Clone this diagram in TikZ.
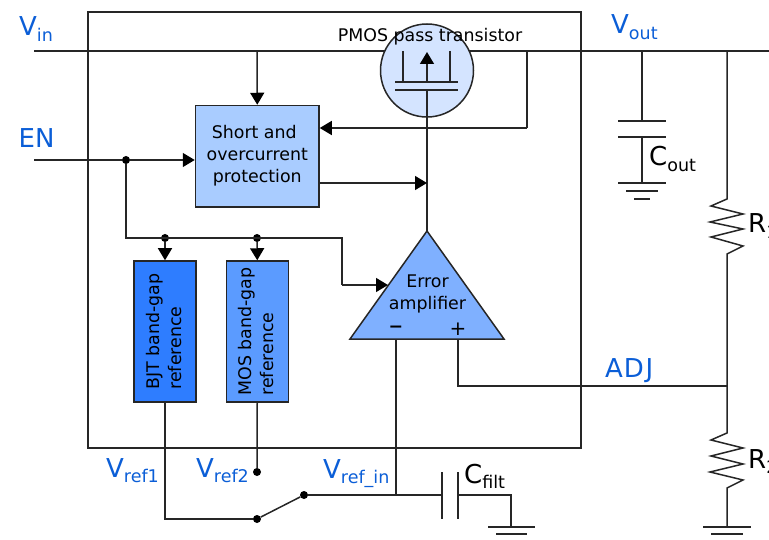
\documentclass[tikz,border=0pt]{standalone}
\usepackage{fontspec}
\setmainfont{DejaVu Sans}
\usetikzlibrary{arrows.meta}
\definecolor{wire}{HTML}{262626}
\definecolor{labblue}{HTML}{0B5ED7}
\definecolor{boxA}{HTML}{A9CCFF}
\definecolor{boxB}{HTML}{2E7DFF}
\definecolor{boxC}{HTML}{5B9BFF}
\definecolor{triC}{HTML}{7FB0FF}
\definecolor{circC}{HTML}{D4E4FF}
\newcommand{\bigsub}[2]{{\fontsize{26}{26}\selectfont #1}\raisebox{-5.5pt}{\fontsize{17.5}{18}\selectfont #2}}
\tikzset{
  wireline/.style={draw=wire,line width=1.5pt},
  arr/.style={wireline,-{Triangle[length=12pt,width=14pt,color=black,fill=black]}},
  block/.style={draw=wire,line width=1.5pt,inner sep=0pt,text=black,font=\fontsize{17.4}{22}\selectfont},
  dotj/.style={circle,fill=black,inner sep=0pt,minimum size=8pt},
  lab/.style={anchor=base west,inner sep=0pt,text=labblue},
  blab/.style={anchor=base west,inner sep=0pt,text=black},
  txt/.style={inner sep=0pt,align=center,text=black,font=\fontsize{17.4}{22}\selectfont}
}
\begin{document}
\begin{tikzpicture}[x=1pt,y=-1pt]
\useasboundingbox (0,0) rectangle (769,540);
\clip (0,0) rectangle (769,540);
% frame
\coordinate (f1) at (88,12);
\coordinate (f2) at (581,448);
\draw[wireline] (f1) rectangle (f2);
% coordinates
\coordinate (vinL) at (34,51);
\coordinate (srcT) at (403,51);
\coordinate (drnT) at (450,51);
\coordinate (srcB) at (403,82);
\coordinate (drnB) at (450,82);
\coordinate (vEnd) at (769,51);
\coordinate (tapL) at (257,51);
\coordinate (tapR) at (527,51);
\coordinate (tapRb) at (527,128);
\coordinate (capT) at (642,51);
\coordinate (rT) at (727,51);
\coordinate (enL) at (34,160);
\coordinate (gateB) at (427,90);
\coordinate (chan) at (427,82);
\coordinate (chanUp) at (427,52);
\coordinate (apex) at (427,231);
\coordinate (tl) at (350,339);
\coordinate (tr) at (504,339);
\coordinate (minus) at (396,339);
\coordinate (plus) at (458,339);
\coordinate (adjJ) at (727,386);
% blocks
\node[block,align=center,fill=boxA,minimum width=123.5pt,minimum height=101.5pt] (prot) at (257.25,156.25) {Short and\hspace*{6pt}\\overcurrent\hspace*{6pt}\\protection\hspace*{6pt}\\[-18pt]\mbox{}};
\node[block,align=left,fill=boxB,rotate=90,minimum width=141pt,minimum height=62pt] (bjt) at (165,331.5) {BJT band-gap\\reference\\[-19pt]\mbox{}};
\node[block,align=left,fill=boxC,rotate=90,minimum width=141pt,minimum height=62pt] (mos) at (257.25,331.5) {MOS band-gap\\reference\\[-19pt]\mbox{}};
% wires behind circle
\draw[wireline] (vinL) -- (srcT);
\draw[wireline] (drnT) -- (vEnd);
% transistor
\node[circle,draw=wire,line width=1.5pt,fill=circC,minimum size=93pt,inner sep=0pt] (pmos) at (427,70.5) {};
\draw[wireline] (srcT) -- (srcB);
\draw[wireline] (drnT) -- (drnB);
\coordinate (b1) at (395,82); \coordinate (b2) at (458,82);
\coordinate (g1) at (395,90); \coordinate (g2) at (458,90);
\draw[wireline] (b1) -- (b2);
\draw[wireline] (g1) -- (g2);
\draw[arr] (chan) -- (chanUp);
\draw[wireline] (gateB) -- (apex);
\node[txt] (pmostxt) at (430,37) {PMOS pass transistor};
% triangle
\draw[line width=1.5pt,draw=wire,fill=triC,line join=miter] (apex) -- (tr) -- (tl) -- cycle;
\node[txt] (err) at (427.5,294) {Error\\amplifier};
\node[txt] (mtxt) at (396,329) {\textbf{−}};
\node[txt] (ptxt) at (458,329) {\fontsize{20}{20}\selectfont +};
% control wires
\draw[arr] (tapL) -- (prot.north);
\draw[wireline] (tapR) -- (tapRb);
\draw[arr] (tapRb) -- (prot.east |- tapRb);
\coordinate (pOut) at (prot.east |- 0,183);
\coordinate (gate183) at (427,183);
\draw[arr] (pOut) -- (gate183);
\node[dotj] (enJ) at (126,160) {};
\draw[wireline] (enL) -- (enJ);
\draw[arr] (enJ) -- (prot.west |- enJ);
\coordinate (c1) at (126,238);
\node[dotj] (jb) at (165,238) {};
\node[dotj] (jm) at (257,238) {};
\coordinate (c2) at (342,238);
\coordinate (c3) at (342,285);
\coordinate (c4) at (388,285);
\draw[wireline] (enJ) -- (c1) -- (c2) -- (c3);
\draw[arr] (c3) -- (c4);
\draw[arr] (jb) -- (bjt.east);
\draw[arr] (jm) -- (mos.east);
% output cap
\coordinate (cp1) at (642,121);
\coordinate (cp2) at (642,137);
\coordinate (cg) at (642,183);
\draw[wireline] (capT) -- (cp1);
\draw[wireline] (618,121) -- (666,121);
\draw[wireline] (618,137) -- (666,137);
\draw[wireline] (cp2) -- (cg);
\draw[wireline] (618,183) -- (666,183);
\draw[wireline] (626,191) -- (658,191);
\draw[wireline] (634,199) -- (650,199);
% resistors
\coordinate (r1t) at (727,199);
\coordinate (r1b) at (727,254);
\coordinate (r2t) at (727,433);
\coordinate (r2b) at (727,488);
\coordinate (rg) at (727,527);
\draw[wireline] (rT) -- (r1t) -- (711,206) -- (743,214) -- (710,222) -- (743,229) -- (711,237) -- (743,246) -- (r1b) -- (adjJ) -- (r2t) -- (711,440) -- (743,448) -- (711,456) -- (743,464) -- (710,472) -- (743,480) -- (r2b) -- (rg);
\draw[wireline] (703,527) -- (751,527);
\draw[wireline] (711,534) -- (743,534);
% plus input
\coordinate (pk) at (458,386);
\draw[wireline] (plus) -- (pk) -- (adjJ);
% switch
\node[dotj] (sw1) at (257,519) {};
\node[dotj] (sw2) at (257,472) {};
\node[dotj] (swC) at (304,495) {};
\coordinate (bk) at (165,519);
\coordinate (jv) at (396,495);
\draw[wireline] (bjt.west) -- (bk) -- (sw1);
\draw[wireline] (mos.west) -- (sw2);
\draw[wireline] (sw1) -- (swC);
\draw[wireline] (minus) -- (jv);
% filter cap
\coordinate (fp1) at (442,495);
\coordinate (fp2) at (458,495);
\coordinate (fk) at (511,495);
\coordinate (fg) at (511,527);
\draw[wireline] (swC) -- (jv) -- (fp1);
\draw[wireline] (442,472) -- (442,519);
\draw[wireline] (458,472) -- (458,519);
\draw[wireline] (fp2) -- (fk) -- (fg);
\draw[wireline] (488,527) -- (535,527);
\draw[wireline] (496,534) -- (527,534);
% labels
\node[lab] (lvin) at (19,36) {\bigsub{V}{in}};
\node[lab] (lout) at (611,34) {\bigsub{V}{out}};
\node[lab,font=\fontsize{26}{26}\selectfont] (len) at (18.5,148) {EN};
\node[lab,font=\fontsize{26}{26}\selectfont] (ladj) at (605,377) {A\kern1pt D\kern1.5pt J};
\node[lab] (lr1) at (106,477) {\bigsub{V}{ref1}};
\node[lab] (lr2) at (196,477) {\bigsub{V}{ref2}};
\node[lab] (lri) at (323,478) {\bigsub{V}{ref\_in}};
\node[blab] (lcf) at (464,483) {\bigsub{C}{filt}};
\node[blab] (lco) at (649,166) {\bigsub{C}{out}};
\node[blab] (lr) at (748,233) {\bigsub{R}{1}};
\node[blab] (lrr) at (748,468) {\bigsub{R}{2}};
\end{tikzpicture}
\end{document}
